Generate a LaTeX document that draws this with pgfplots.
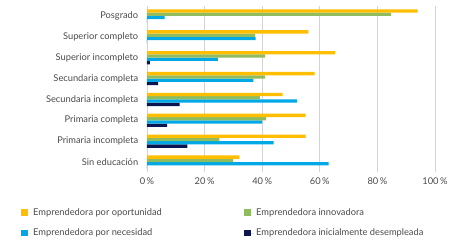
\documentclass[border=0pt]{standalone}
\usepackage{pgfplots}
\pgfplotsset{compat=1.18}
\usepackage{fontspec}
\setmainfont{Lato}
\definecolor{cOrange}{HTML}{FFBE00}
\definecolor{cGreen}{HTML}{8FBC5F}
\definecolor{cBlue}{HTML}{00A8E6}
\definecolor{cNavy}{HTML}{0B1650}
\definecolor{cText}{HTML}{4A4A4A}
\definecolor{cGrid}{HTML}{D3D3D3}
\begin{document}
\begin{tikzpicture}
\useasboundingbox (0,0) rectangle (450pt,246pt);
\begin{axis}[
  at={(147pt,73.5pt)}, anchor=south west,
  scale only axis, width=288pt, height=167pt,
  xbar=0pt, bar width=3.3pt,
  xmin=0, xmax=100, ymin=-0.5, ymax=7.5,
  xtick={0,20,40,60,80,100},
  xticklabels={0\,\%,20\,\%,40\,\%,60\,\%,80\,\%,100\,\%},
  ytick={0,...,7},
  yticklabels={Sin educación,Primaria incompleta,Primaria completa,Secundaria incompleta,Secundaria completa,Superior incompleto,Superior completo,Posgrado},
  xmajorgrids, grid style={cGrid, line width=0.9pt},
  axis line style={draw=none},
  tick style={draw=none},
  ticklabel style={font=\fontsize{9.3}{11}\selectfont, text=cText},
  xticklabel style={yshift=-2pt},
  yticklabel style={xshift=-1pt},
  /pgf/number format/assume math mode=true,
  legend columns=2,
  reverse legend,
  legend cell align=left,
  legend style={at={(axis description cs:0,0)}, anchor=north west, xshift=-129pt, yshift=-32pt,
    draw=none, fill=none, font=\fontsize{9.3}{11}\selectfont, text=cText,
    /tikz/every even column/.append style={column sep=4pt},
    row sep=8pt},
  legend image code/.code={\fill[#1] (0pt,-3pt) rectangle (6.5pt,3.5pt); \path (0pt,0pt) -- (10pt,0pt);},
]
\addplot[draw=none, fill=cNavy] coordinates {(0,0) (14,1) (7,2) (11.3,3) (3.9,4) (1,5) (0,6) (0,7)};
\addlegendentry{Emprendedora inicialmente desempleada}
\addplot[draw=none, fill=cBlue] coordinates {(63.1,0) (44,1) (40,2) (52,3) (36.9,4) (24.6,5) (37.7,6) (6.1,7)};
\addlegendentry{\makebox[205pt][l]{Emprendedora por necesidad}}
\addplot[draw=none, fill=cGreen] coordinates {(29.9,0) (25.1,1) (41.4,2) (39.2,3) (41,4) (41,5) (37.5,6) (84.7,7)};
\addlegendentry{Emprendedora innovadora}
\addplot[draw=none, fill=cOrange] coordinates {(32.1,0) (55.1,1) (55.1,2) (47.1,3) (58.2,4) (65.3,5) (56,6) (94,7)};
\addlegendentry{\makebox[205pt][l]{Emprendedora por oportunidad}}
\end{axis}
\end{tikzpicture}
\end{document}
